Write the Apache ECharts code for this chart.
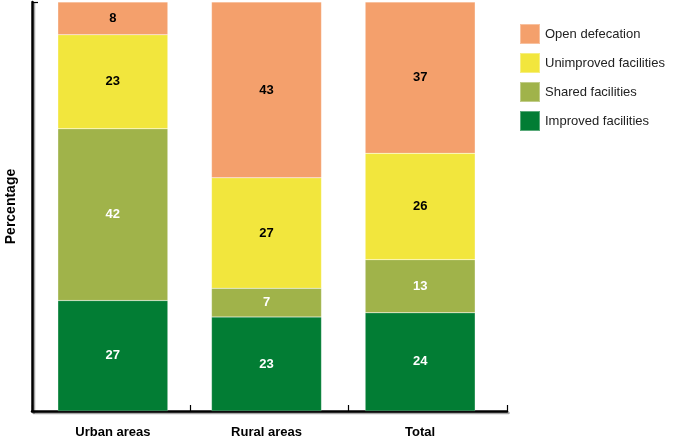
<!DOCTYPE html>
<html><head><meta charset="utf-8">
<script src="https://cdn.jsdelivr.net/npm/echarts@6/dist/echarts.min.js"></script>
<style>html,body{margin:0;padding:0;background:#fff}#c{width:673px;height:444px}</style>
</head><body><div id="c"></div>
<script>
const categories = ['Urban areas', 'Rural areas', 'Total'];
const improved = [27, 23, 24];
const shared = [42, 7, 13];
const unimproved = [23, 27, 26];
const openDefecation = [8, 43, 37];
const seriesNames = ['Improved facilities', 'Shared facilities', 'Unimproved facilities', 'Open defecation'];
const colors = ['#027D34', '#A0B34A', '#F2E63D', '#F4A06C'];
const labelColors = ['#fff', '#fff', '#000', '#000'];
const dataSets = [improved, shared, unimproved, openDefecation];

const chart = echarts.init(document.getElementById('c'));
const font = 'Liberation Sans, Arial, sans-serif';
const axisLineStyle = {color: '#000', width: 2.5, shadowColor: 'rgba(0,0,0,0.35)', shadowOffsetX: 1.5, shadowOffsetY: 1.5};
chart.setOption({
  animation: false,
  grid: [
    {left: 32, right: 166, top: 2, bottom: 33, outerBoundsMode: 'none', containLabel: false},
    {left: 36, right: 176, top: 2, bottom: 33, outerBoundsMode: 'none', containLabel: false}
  ],
  legend: {
    data: ['Open defecation', 'Unimproved facilities', 'Shared facilities', 'Improved facilities'],
    orient: 'vertical', left: 514, top: 18,
    itemWidth: 20, itemHeight: 20, itemGap: 7, icon: 'rect',
    textStyle: {fontFamily: font, fontSize: 13, color: '#222'}
  },
  xAxis: [
    {
      gridIndex: 0, type: 'category', data: categories,
      axisLine: {lineStyle: axisLineStyle},
      axisTick: {show: true, inside: true, length: 6, lineStyle: {color: '#000', width: 1.2}},
      axisLabel: {show: false}
    },
    {
      gridIndex: 1, type: 'category', data: categories,
      axisLine: {show: false}, axisTick: {show: false},
      axisLabel: {fontFamily: font, fontSize: 13, fontWeight: 'bold', color: '#000', margin: 15}
    }
  ],
  yAxis: [
    {
      gridIndex: 0, type: 'value', min: 0, max: 100, interval: 100,
      name: 'Percentage', nameLocation: 'middle', nameGap: 14, nameRotate: 90,
      nameTextStyle: {fontFamily: font, fontSize: 14, fontWeight: 'bold', color: '#000'},
      axisLine: {show: true, lineStyle: axisLineStyle},
      axisTick: {show: true, inside: true, length: 6, lineStyle: {color: '#000', width: 1.2}},
      axisLabel: {show: false},
      splitLine: {show: false}
    },
    {
      gridIndex: 1, type: 'value', min: 0, max: 100, interval: 100,
      axisLine: {show: false}, axisTick: {show: false}, axisLabel: {show: false}, splitLine: {show: false}
    }
  ],
  series: dataSets.map((d, i) => ({
    name: seriesNames[i], type: 'bar', stack: 'total', data: d, barWidth: 110,
    xAxisIndex: 1, yAxisIndex: 1, z: 1,
    itemStyle: {color: colors[i], borderColor: 'rgba(255,255,255,0.35)', borderWidth: 0.5},
    label: {show: true, position: 'inside', fontFamily: font, fontSize: 13, fontWeight: 'bold', color: labelColors[i]}
  }))
});
</script></body></html>
